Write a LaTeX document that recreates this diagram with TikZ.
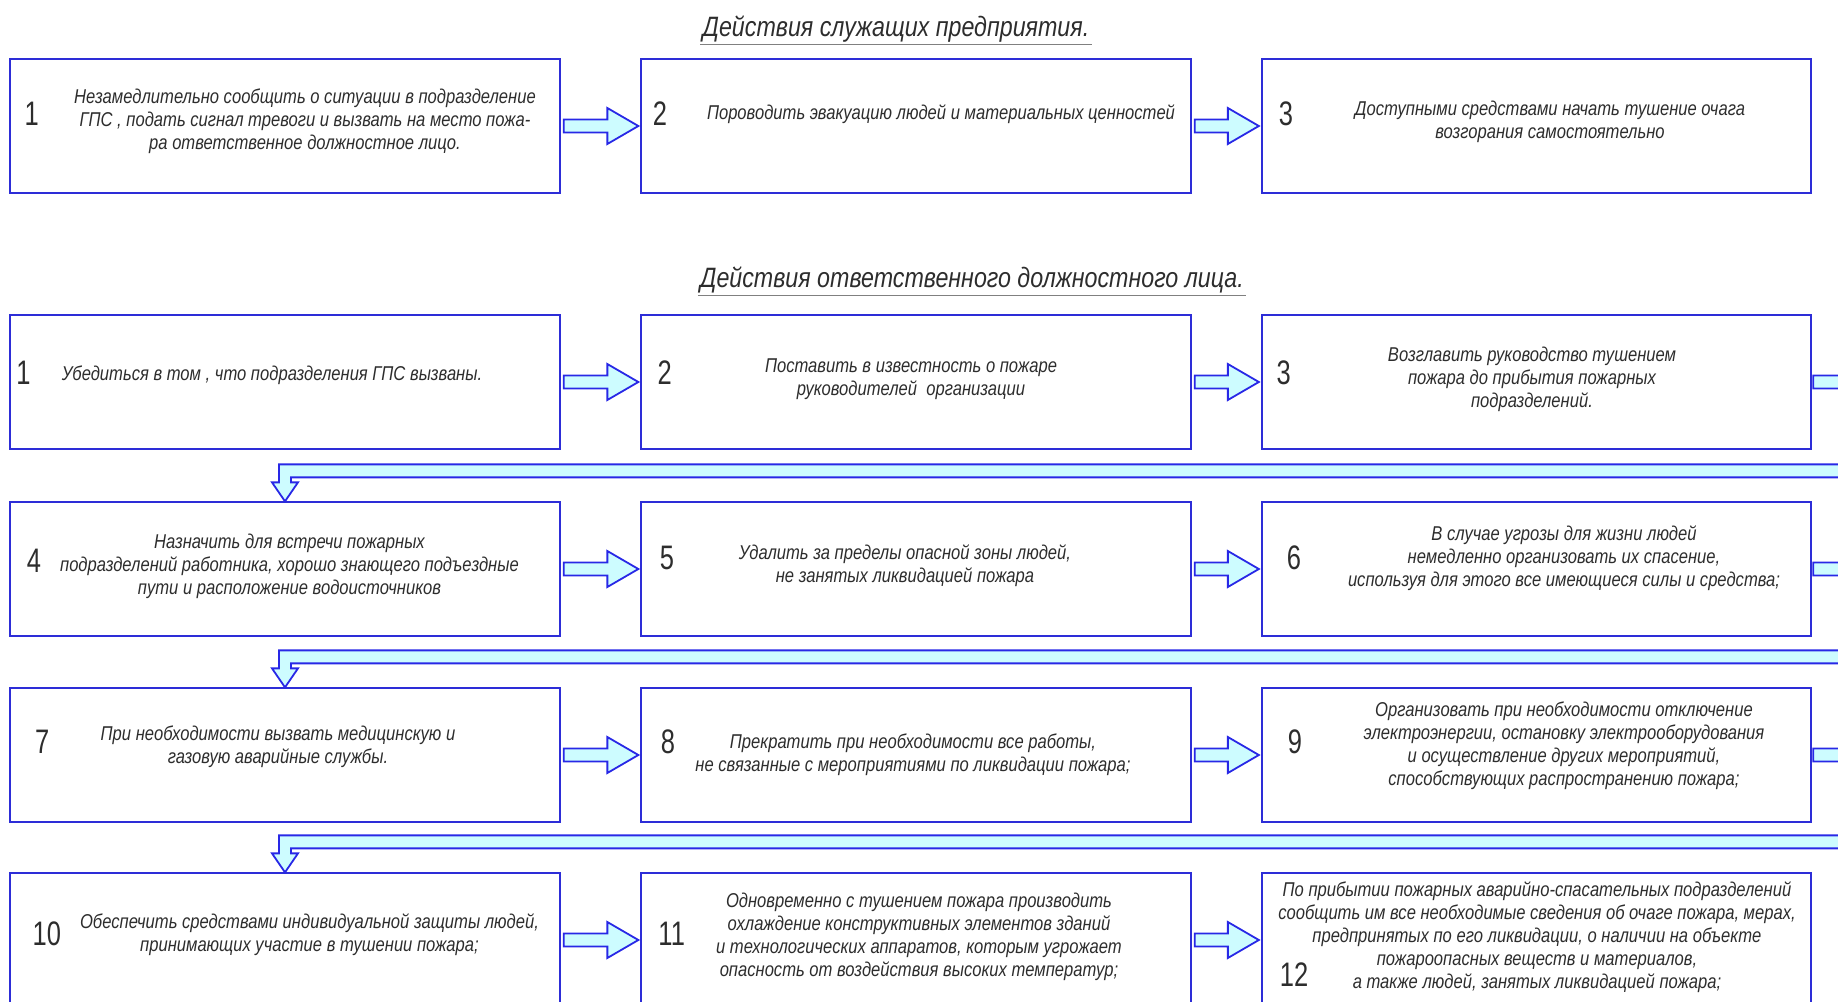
\documentclass[tikz,border=0pt]{standalone}
\usepackage{fontspec}
\setmainfont{Liberation Sans}
\newfontfamily\txtfont{Liberation Sans}[FakeStretch=0.83]
\newfontfamily\numfont{Liberation Sans}[FakeStretch=0.75]
\usetikzlibrary{calc,positioning}

\definecolor{boxblue}{RGB}{45,45,215}
\definecolor{arrblue}{RGB}{40,40,230}
\definecolor{arrfill}{RGB}{205,252,255}
\definecolor{txtgray}{RGB}{45,45,45}

\tikzset{
	actbox/.style={draw=boxblue,line width=0.9pt,minimum width=274.75pt,minimum height=66.75pt,inner sep=0pt},
	acttext/.style={align=center,font=\txtfont\itshape\fontsize{10}{11.5}\selectfont,text=txtgray,inner sep=0pt},
	stepnum/.style={font=\numfont\fontsize{17}{17}\selectfont,text=txtgray,inner sep=0pt},
	ttl/.style={font=\txtfont\itshape\fontsize{14}{14}\selectfont,text=txtgray,inner sep=1pt},
	blockarr/.style={draw=arrblue,fill=arrfill,line width=0.9pt,line join=miter}
}

% block arrow from one box to the next in a row
\newcommand{\harrow}[2]{%
	\draw[blockarr] ($(#1.east)+(3,-6.5)$) -- ($(#2.west)+(-33,-6.5)$) -- ($(#2.west)+(-33,-18)$)
		-- ($(#2.west)+(-2,0)$) -- ($(#2.west)+(-33,18)$) -- ($(#2.west)+(-33,6.5)$)
		-- ($(#1.east)+(3,6.5)$) -- cycle;}

% block arrow from the end of a row back to the start of the next one
\newcommand{\returnarrow}[2]{%
	\draw[blockarr] ($(#1.east)+(1,-6.5)$) -- ($(#1.east)+(75,-6.5)$) |- ($(#2.north)+(6,-24)$)
		-- ($(#2.north)+(6,-19)$) -- ($(#2.north)+(13,-19)$) -- (#2.north)
		-- ($(#2.north)+(-13,-19)$) -- ($(#2.north)+(-6,-19)$) -- ($(#2.north)+(-6,-37)$)
		-| ($(#1.east)+(62,6.5)$) -- ($(#1.east)+(1,6.5)$) -- cycle;}

\begin{document}
\begin{tikzpicture}[x=0.5pt,y=-0.5pt]
	\useasboundingbox (0,0) rectangle (1838,1002);
	\clip (0,0) rectangle (1838,1002);

	% titles
	\node[ttl] (ttl1) at (896,29) {Действия служащих предприятия.};
	\draw[gray] (ttl1.south west) -- (ttl1.south east);
	\node[ttl] (ttl2) at (972,280) {Действия ответственного должностного лица.};
	\draw[gray] (ttl2.south west) -- (ttl2.south east);

	% row a
	\node[actbox] (a1) at (285,126) {};
	\node[actbox] (a2) at (916,126) {};
	\node[actbox] (a3) at (1536.5,126) {};
	\node[stepnum] (na1) at (31.6,114) {1};
	\node[stepnum] (na2) at (660,114) {2};
	\node[stepnum] (na3) at (1286,114) {3};
	\node[acttext] (ta1) at (305,121) {Незамедлительно сообщить о ситуации в подразделение\\ГПС , подать сигнал тревоги и вызвать на место пожа-\\ра ответственное должностное лицо.};
	\node[acttext] (ta2) at (941,114) {Пороводить эвакуацию людей и материальных ценностей};
	\node[acttext] (ta3) at (1550,122) {Доступными средствами начать тушение очага\\возгорания самостоятельно};

	% row b
	\node[actbox] (b1) at (285,382) {};
	\node[actbox] (b2) at (916,382) {};
	\node[actbox] (b3) at (1536.5,382) {};
	\node[stepnum] (nb1) at (23.4,373) {1};
	\node[stepnum] (nb2) at (664.6,373) {2};
	\node[stepnum] (nb3) at (1283.6,373) {3};
	\node[acttext] (tb1) at (272,375) {Убедиться в том , что подразделения ГПС вызваны.};
	\node[acttext] (tb2) at (911,379) {Поставить в известность о пожаре\\руководителей\ \ организации};
	\node[acttext] (tb3) at (1532,379) {Возглавить руководство тушением\\пожара до прибытия пожарных\\подразделений.};

	% row c
	\node[actbox] (c1) at (285,569) {};
	\node[actbox] (c2) at (916,569) {};
	\node[actbox] (c3) at (1536.5,569) {};
	\node[stepnum] (nc1) at (34,561) {4};
	\node[stepnum] (nc2) at (667,558) {5};
	\node[stepnum] (nc3) at (1294,558) {6};
	\node[acttext] (tc1) at (289.5,566) {Назначить для встречи пожарных\\подразделений работника, хорошо знающего подъездные\\пути и расположение водоисточников};
	\node[acttext] (tc2) at (905,566) {Удалить за пределы опасной зоны людей,\\не занятых ликвидацией пожара};
	\node[acttext] (tc3) at (1564,558) {В случае угрозы для жизни людей\\немедленно организовать их спасение,\\используя для этого все имеющиеся силы и средства;};

	% row d
	\node[actbox] (d1) at (285,755) {};
	\node[actbox] (d2) at (916,755) {};
	\node[actbox] (d3) at (1536.5,755) {};
	\node[stepnum] (nd1) at (42.2,742) {7};
	\node[stepnum] (nd2) at (668,742) {8};
	\node[stepnum] (nd3) at (1295,742) {9};
	\node[acttext] (td1) at (278,747) {При необходимости вызвать медицинскую и\\газовую аварийные службы.};
	\node[acttext] (td2) at (913,755) {Прекратить при необходимости все работы,\\не связанные с мероприятиями по ликвидации пожара;};
	\node[acttext] (td3) at (1564,746) {Организовать при необходимости отключение\\электроэнергии, остановку электрооборудования\\и осуществление других мероприятий,\\способствующих распространению пожара;};

	% row e
	\node[actbox] (e1) at (285,940) {};
	\node[actbox] (e2) at (916,940) {};
	\node[actbox] (e3) at (1536.5,940) {};
	\node[stepnum] (ne1) at (46.9,934) {10};
	\node[stepnum] (ne2) at (671.7,934) {11};
	\node[stepnum] (ne3) at (1294,975) {12};
	\node[acttext] (te1) at (309.5,935) {Обеспечить средствами индивидуальной защиты людей,\\принимающих участие в тушении пожара;};
	\node[acttext] (te2) at (919,937) {Одновременно с тушением пожара производить\\охлаждение конструктивных элементов зданий\\и технологических аппаратов, которым угрожает\\опасность от воздействия высоких температур;};
	\node[acttext] (te3) at (1537,937) {По прибытии пожарных аварийно-спасательных подразделений\\сообщить им все необходимые сведения об очаге пожара, мерах,\\предпринятых по его ликвидации, о наличии на объекте\\пожароопасных веществ и материалов,\\а также людей, занятых ликвидацией пожара;};

	% arrows
	\foreach \p/\q in {a1/a2,a2/a3,b1/b2,b2/b3,c1/c2,c2/c3,d1/d2,d2/d3,e1/e2,e2/e3}
		\harrow{\p}{\q};
	\foreach \p/\q in {b3/c1,c3/d1,d3/e1}
		\returnarrow{\p}{\q};
\end{tikzpicture}
\end{document}
